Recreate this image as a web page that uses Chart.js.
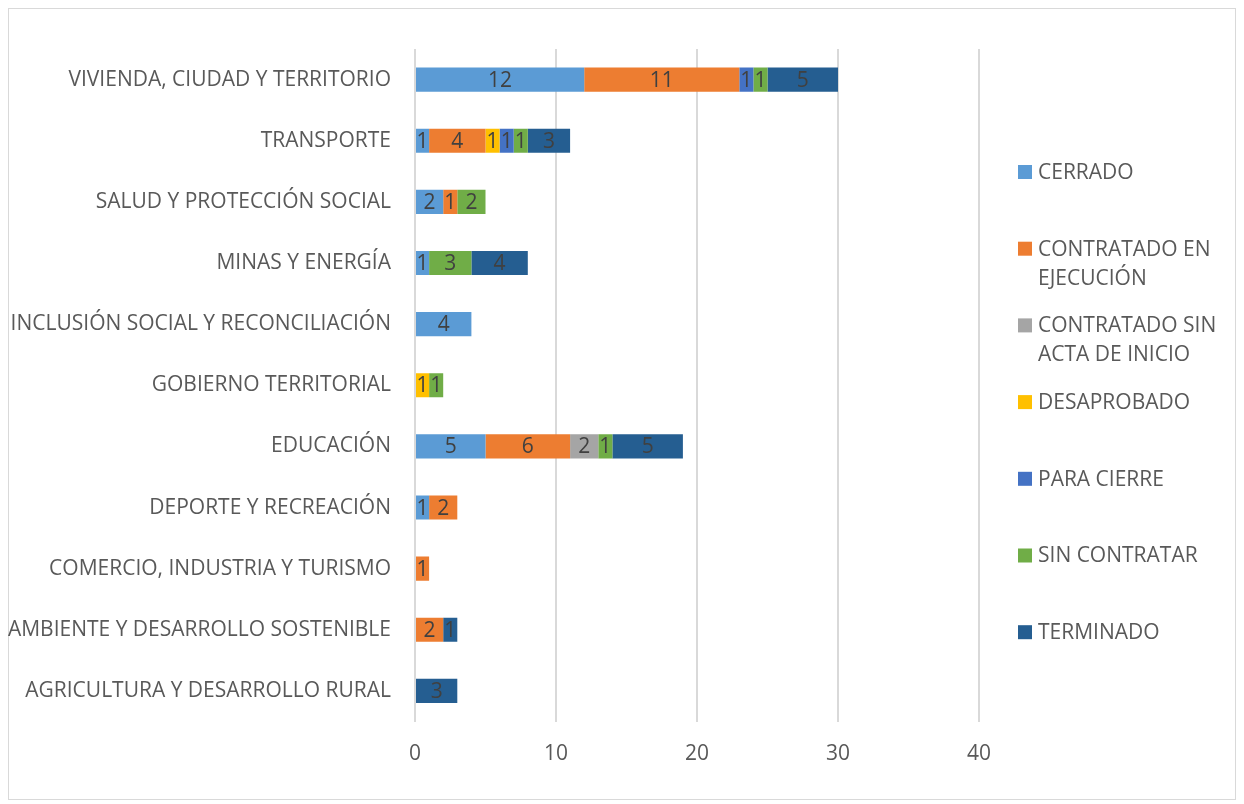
<!DOCTYPE html>
<html>
<head>
<meta charset="utf-8">
<script src="https://cdn.jsdelivr.net/npm/chart.js@4.4.1/dist/chart.umd.min.js"></script>
<style>
  html, body { margin: 0; padding: 0; background: #fff; }
  #wrap { position: relative; width: 1244px; height: 804px; }
</style>
</head>
<body>
<div id="wrap"><canvas id="chart" width="1244" height="804"></canvas></div>
<script>
// --------------------
// Data
// --------------------
const categories = [
  'VIVIENDA, CIUDAD Y TERRITORIO',
  'TRANSPORTE',
  'SALUD Y PROTECCIÓN SOCIAL',
  'MINAS Y ENERGÍA',
  'INCLUSIÓN SOCIAL Y RECONCILIACIÓN',
  'GOBIERNO TERRITORIAL',
  'EDUCACIÓN',
  'DEPORTE Y RECREACIÓN',
  'COMERCIO, INDUSTRIA Y TURISMO',
  'AMBIENTE Y DESARROLLO SOSTENIBLE',
  'AGRICULTURA Y DESARROLLO RURAL'
];

const cerrado        = [12, 1, 2, 1, 4, null, 5, 1, null, null, null];
const ejecucion      = [11, 4, 1, null, null, null, 6, 2, 1, 2, null];
const sinActa        = [null, null, null, null, null, null, 2, null, null, null, null];
const desaprobado    = [null, 1, null, null, null, 1, null, null, null, null, null];
const paraCierre     = [1, 1, null, null, null, null, null, null, null, null, null];
const sinContratar   = [1, 1, 2, 3, null, 1, 1, null, null, null, null];
const terminado      = [5, 3, null, 4, null, null, 5, null, null, 1, 3];

const seriesNames = [
  ['CERRADO'],
  ['CONTRATADO EN', 'EJECUCIÓN'],
  ['CONTRATADO SIN', 'ACTA DE INICIO'],
  ['DESAPROBADO'],
  ['PARA CIERRE'],
  ['SIN CONTRATAR'],
  ['TERMINADO']
];
const seriesColors = ['#5B9BD5', '#ED7D31', '#A5A5A5', '#FFC000', '#4472C4', '#70AD47', '#255E91'];
const seriesData = [cerrado, ejecucion, sinActa, desaprobado, paraCierre, sinContratar, terminado];

const xTicks = [0, 10, 20, 30, 40];

const FONT = 'Open Sans';
const FS = 21;
const TEXT = '#595959';

// --------------------
// Plugins: frame, segment labels, legend
// --------------------
const framePlugin = {
  id: 'frame',
  beforeDraw(chart) {
    const ctx = chart.ctx;
    ctx.save();
    ctx.strokeStyle = '#d9d9d9';
    ctx.lineWidth = 1;
    ctx.strokeRect(8.5, 8.5, 1227, 791);
    ctx.restore();
  }
};

const labelPlugin = {
  id: 'segLabels',
  afterDatasetsDraw(chart) {
    const ctx = chart.ctx;
    ctx.save();
    ctx.font = FS + 'px "' + FONT + '"';
    ctx.fillStyle = '#404040';
    ctx.textAlign = 'center';
    ctx.textBaseline = 'middle';
    chart.data.datasets.forEach((ds, i) => {
      const meta = chart.getDatasetMeta(i);
      meta.data.forEach((bar, j) => {
        const v = ds.data[j];
        if (v == null) return;
        const cx = (bar.x + bar.base) / 2;
        ctx.fillText(String(v), cx, bar.y + 1);
      });
    });
    ctx.restore();
  }
};

const legendPlugin = {
  id: 'sideLegend',
  afterDraw(chart) {
    const ctx = chart.ctx;
    ctx.save();
    ctx.font = FS + 'px "' + FONT + '"';
    ctx.textBaseline = 'middle';
    ctx.textAlign = 'left';
    seriesNames.forEach((lines, i) => {
      const y0 = 172 + i * 76.7;
      ctx.fillStyle = seriesColors[i];
      ctx.fillRect(1018, y0 - 7, 14, 14);
      ctx.fillStyle = TEXT;
      lines.forEach((ln, k) => ctx.fillText(ln, 1038, y0 + 1 + k * 29));
    });
    ctx.restore();
  }
};

// --------------------
// Chart
// --------------------
new Chart(document.getElementById('chart'), {
  type: 'bar',
  data: {
    labels: categories,
    datasets: seriesData.map((d, i) => ({
      label: seriesNames[i].join(' '),
      data: d,
      backgroundColor: seriesColors[i],
      borderWidth: 0,
      barPercentage: 0.79,
      categoryPercentage: 0.5
    }))
  },
  options: {
    indexAxis: 'y',
    responsive: false,
    animation: false,
    layout: { padding: { top: 49, right: 265, bottom: 0, left: 0 } },
    plugins: { legend: { display: false }, tooltip: { enabled: false } },
    scales: {
      x: {
        stacked: true,
        min: 0,
        max: 40,
        afterBuildTicks: (s) => { s.ticks = xTicks.map(v => ({ value: v })); },
        grid: { color: '#d9d9d9', lineWidth: 2, drawTicks: false },
        border: { display: false },
        ticks: { color: TEXT, font: { family: FONT, size: FS }, padding: 20 },
        afterFit: (s) => { s.height = 82.5; }
      },
      y: {
        stacked: true,
        grid: { display: false, drawTicks: false },
        border: { display: false },
        ticks: { color: TEXT, font: { family: FONT, size: FS }, padding: 24, autoSkip: false },
        afterFit: (s) => { s.width = 415; }
      }
    }
  },
  plugins: [framePlugin, labelPlugin, legendPlugin]
});
</script>
</body>
</html>
